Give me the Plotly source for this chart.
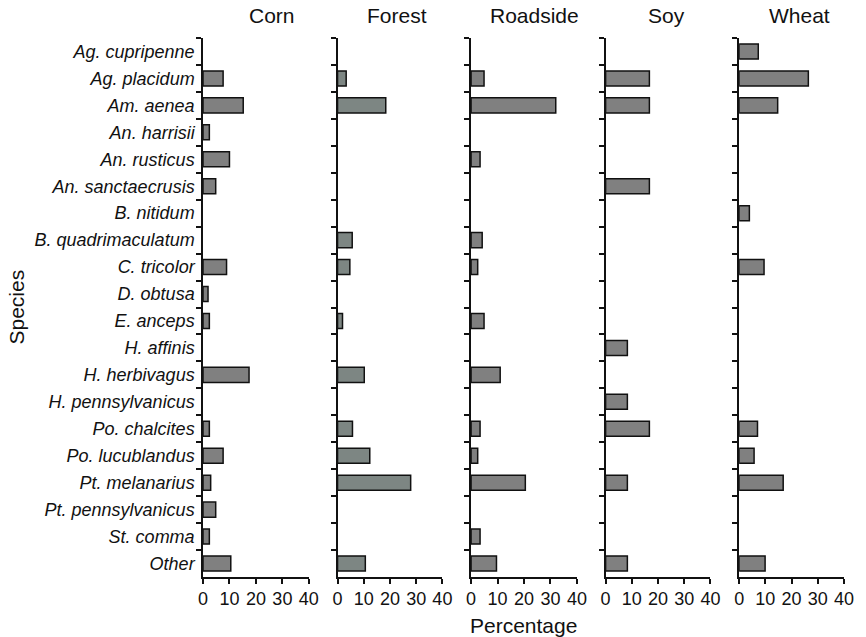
import plotly.graph_objects as go
from plotly.subplots import make_subplots

species = ["Ag. cupripenne", "Ag. placidum", "Am. aenea", "An. harrisii", "An. rusticus",
           "An. sanctaecrusis", "B. nitidum", "B. quadrimaculatum", "C. tricolor", "D. obtusa",
           "E. anceps", "H. affinis", "H. herbivagus", "H. pennsylvanicus", "Po. chalcites",
           "Po. lucublandus", "Pt. melanarius", "Pt. pennsylvanicus", "St. comma", "Other"]
habitats = ["Corn", "Forest", "Roadside", "Soy", "Wheat"]

corn = [None, 7.6, 15.2, 2.4, 10.0, 4.8, None, None, 8.9, 1.9,
        2.4, None, 17.4, None, 2.4, 7.6, 2.9, 4.8, 2.4, 10.5]
forest = [None, 3.3, 18.4, None, None, None, None, 5.6, 4.7, None,
          1.9, None, 10.2, None, 5.7, 12.3, 27.9, None, None, 10.6]
roadside = [None, 4.9, 32.0, None, 3.4, None, None, 4.2, 2.5, None,
            4.9, None, 11.0, None, 3.4, 2.5, 20.5, None, 3.4, 9.6]
soy = [None, 16.7, 16.7, None, None, 16.7, None, None, None, None,
       None, 8.3, None, 8.3, 16.7, None, 8.3, None, None, 8.3]
wheat = [7.3, 26.4, 14.7, None, None, None, 3.9, None, 9.5, None,
         None, None, None, None, 7.0, 5.7, 16.8, None, None, 9.9]
series = [corn, forest, roadside, soy, wheat]
x_ticks = [0, 10, 20, 30, 40]
colors = ["#808080", "#7d8683", "#808080", "#808080", "#808080"]

W, H = 866, 637
ml, mr, mt, mb = 203, 15, 38, 60
pw = W - ml - mr
ph = H - mt - mb
panels_px = [(203, 310), (339, 445), (474, 581), (610, 716), (745, 851)]
title_px = [273, 399, 538, 672, 806]

fig = make_subplots(rows=1, cols=5, shared_yaxes=False)
font = "Arial, Liberation Sans, sans-serif"

for i, (hab, vals) in enumerate(zip(habitats, series)):
    fig.add_trace(go.Bar(
        y=species, x=vals, orientation="h", name=hab,
        marker=dict(color=colors[i], line=dict(color="#111111", width=1.5)),
        showlegend=False), row=1, col=i + 1)
    a, b = panels_px[i]
    dom = [(a - ml) / pw, (b - ml) / pw]
    xa = "xaxis" if i == 0 else f"xaxis{i+1}"
    ya = "yaxis" if i == 0 else f"yaxis{i+1}"
    fig.layout[xa].update(
        domain=dom, range=[0, 40], tickvals=x_ticks, ticks="outside", ticklen=5,
        tickwidth=1.5, tickcolor="#111", showline=True, linecolor="#111", linewidth=1.5,
        showgrid=False, zeroline=False, tickfont=dict(size=18, color="#111", family=font))
    yupd = dict(
        domain=[0, 1], type="category", categoryarray=species, categoryorder="array",
        range=[19.5, -0.5], ticks="outside", tickson="boundaries", ticklen=5,
        tickwidth=1.5, tickcolor="#111", showline=True, linecolor="#111", linewidth=1.5,
        showgrid=False, zeroline=False, showticklabels=(i == 0))
    if i == 0:
        yupd["tickfont"] = dict(size=18, color="#111", family=font, style="italic")
        yupd["ticklabelstandoff"] = 3
    fig.layout[ya].update(**yupd)
    fig.add_annotation(text=hab, x=(title_px[i] - ml) / pw, y=1, xref="paper", yref="paper",
                       xanchor="center", yanchor="bottom", yshift=9, showarrow=False,
                       font=dict(size=21, color="#111", family=font))

fig.add_annotation(text="Percentage",
                   x=((panels_px[2][0] + panels_px[2][1]) / 2 - ml) / pw,
                   y=-(625 - (H - mb)) / ph, xref="paper", yref="paper",
                   xanchor="center", yanchor="middle", showarrow=False,
                   font=dict(size=21, color="#111", family=font))
fig.add_annotation(text="Species", x=(14 - ml) / pw, y=0.5, xref="paper", yref="paper",
                   textangle=-90, showarrow=False, xanchor="center", yanchor="middle",
                   font=dict(size=21, color="#111", family=font))

fig.update_layout(width=W, height=H, margin=dict(l=ml, r=mr, t=mt, b=mb),
                  plot_bgcolor="white", paper_bgcolor="white", bargap=0.44,
                  font=dict(family=font, color="#111"))
fig.write_html("out.html", config={"displayModeBar": False},
               post_script="document.body.style.margin='0';document.body.style.overflow='hidden';")
